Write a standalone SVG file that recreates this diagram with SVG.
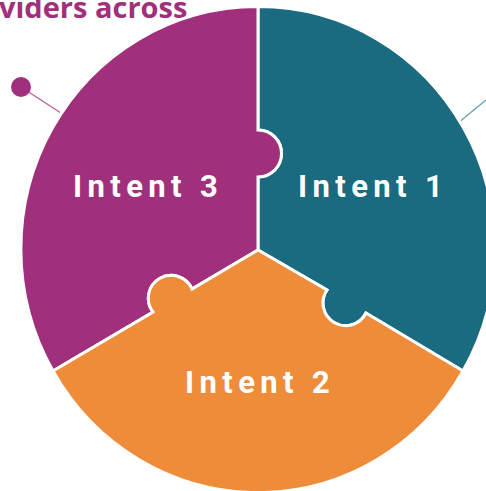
<svg xmlns="http://www.w3.org/2000/svg" width="486" height="491" viewBox="0 0 486 491">
<style>
.seg{stroke:#fff;stroke-width:3;stroke-linejoin:miter}
.lbl{font-family:"Roboto","Liberation Sans",sans-serif;font-weight:700;font-size:31px;fill:#fff;letter-spacing:5.4px}
.lead{stroke-width:1.3;fill:none}
</style>
<rect width="486" height="491" fill="#fff"/>
<text x="-1" y="18" font-family="'Open Sans','Noto Sans',sans-serif" font-weight="700" font-size="29" fill="#a0307c">viders across</text>
<g id="connectors">
<path class="lead" stroke="#b85f9b" d="M21 87L64 115"/>
<path class="lead" stroke="#5f9fb0" d="M458 123L486 100"/>
</g>
<circle cx="21" cy="87" r="10" fill="#a0307c"/>
<g id="intent-1">
<path class="seg" fill="#1a6a80" d="M258 6.500A236.500 242.500 0 0 1 463 371L366 313A22.700 22.700 0 1 1 327 290L258 250V177A23.500 23.500 0 0 0 258 130Z"/>
<text class="lbl" x="298" y="197">Intent 1</text>
</g>
<g id="intent-3">
<path class="seg" fill="#a0307c" d="M258 6.500A236.500 242.500 0 0 0 53 371L153 312A22.800 22.800 0 1 1 192 289L258 250V177A23.500 23.500 0 0 0 258 130Z"/>
<text class="lbl" x="73" y="197">Intent 3</text>
</g>
<g id="intent-2">
<path class="seg" fill="#ee8c3a" d="M53 371A236.500 242.500 0 0 0 463 371L366 313A22.700 22.700 0 1 1 327 290L258 250L192 289A22.800 22.800 0 1 0 153 312Z"/>
<text class="lbl" x="185" y="393">Intent 2</text>
</g>
</svg>
